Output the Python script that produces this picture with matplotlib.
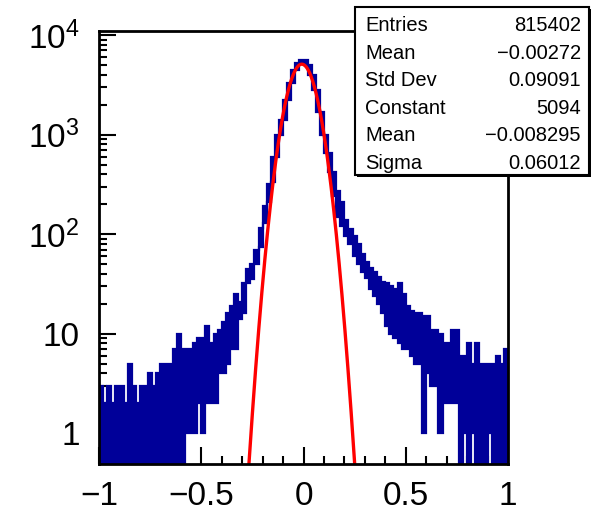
import numpy as np
import matplotlib
matplotlib.use("Agg")
import matplotlib.pyplot as plt
from matplotlib.patches import Rectangle
from matplotlib.ticker import FixedLocator, FixedFormatter, LogLocator, MultipleLocator, NullFormatter

plt.rcParams['font.family'] = ['Liberation Sans', 'DejaVu Sans']
plt.rcParams['mathtext.fontset'] = 'custom'
plt.rcParams['mathtext.rm'] = 'Liberation Sans'
plt.rcParams['mathtext.it'] = 'Liberation Sans:italic'

# ---------------- data ----------------
bin_min, bin_max, n_bins = -1.0, 1.0, 100

# upper envelope of counts in each coarse bin (width 0.02)
counts_high = [
    3, 2, 3, 2, 3, 3, 2, 5, 3, 2,
    3, 3, 4, 3, 4, 5, 5, 5, 7, 10,
    7, 7, 7, 8, 9, 9, 12, 8, 10, 11,
    13, 16, 19, 25, 21, 32, 45, 50, 70, 115,
    190, 320, 600, 1000, 1400, 2200, 3300, 4400, 5200, 5600,
    5600, 5000, 4000, 2800, 1700, 1000, 650, 420, 270, 210,
    140, 112, 95, 80, 63, 52, 46, 42, 37, 33,
    32, 30, 28, 32, 25, 19, 17, 16, 16, 15,
    15, 11, 11, 10, 8, 8, 11, 11, 6, 6,
    8, 5, 8, 5, 5, 5, 5, 6, 5, 7,
]
# lower envelope of counts in each coarse bin
counts_low = [
    0, 0, 0, 0, 0, 0, 0, 0, 0, 0,
    0, 0, 0, 0, 0, 0, 0, 0, 0, 0,
    0, 1, 1, 1, 2, 1, 2, 2, 2, 4,
    4, 5, 7, 7, 14, 16, 32, 35, 50, 75,
    130, 210, 330, 600, 1000, 1400, 2200, 3300, 4400, 5200,
    5000, 4000, 2800, 1700, 1000, 650, 420, 240, 150, 120,
    95, 80, 60, 50, 42, 36, 28, 24, 20, 16,
    12, 10, 9, 8, 7, 7, 6, 5, 5, 1,
    4, 3, 3, 1, 2, 2, 2, 2, 0, 1,
    0, 1, 0, 0, 0, 1, 0, 0, 0, 0,
]

entries = 815402
hist_mean = -0.00272
hist_std = 0.09091
fit_constant = 5094
fit_mean = -0.008295
fit_sigma = 0.06012

x_ticks = [-1, -0.5, 0, 0.5, 1]
x_tick_labels = ['\u22121', '\u22120.5', '0', '0.5', '1']
y_ticks = [1, 10, 100, 1000, 10000]
y_tick_labels = ['1', '10', r'$\mathregular{10^{2}}$', r'$\mathregular{10^{3}}$', r'$\mathregular{10^{4}}$']

# ---------------- figure ----------------
W, H = 598, 518
fig = plt.figure(figsize=(W / 100, H / 100), dpi=100)
ax = fig.add_axes([99 / W, (H - 464) / H, 409 / W, 433 / H])

edges = np.linspace(bin_min, bin_max, n_bins + 1)
hi = np.asarray(counts_high, float)
lo = np.asarray(counts_low, float)
lo_plot = np.where(lo > 0, lo, 0.05)

blue = '#000099'
ax.stairs(hi, edges, baseline=lo_plot, fill=True, color=blue, lw=0, zorder=2)
ax.stairs(hi, edges, baseline=None, color=blue, lw=1.6, zorder=2)
ax.stairs(lo_plot, edges, baseline=None, color=blue, lw=1.6, zorder=2)

xs = np.linspace(bin_min, bin_max, 4001)
ys = fit_constant * np.exp(-0.5 * ((xs - fit_mean) / fit_sigma) ** 2)
ys = np.where(ys > 1e-3, ys, np.nan)
ax.plot(xs, ys, color='#ff0000', lw=2.4, zorder=3)

ax.set_yscale('log')
ax.set_xlim(bin_min, bin_max)
ax.set_ylim(0.49, 10970)

ax.xaxis.set_major_locator(FixedLocator(x_ticks))
ax.xaxis.set_major_formatter(FixedFormatter(x_tick_labels))
ax.xaxis.set_minor_locator(MultipleLocator(0.1))
ax.yaxis.set_major_locator(FixedLocator(y_ticks))
ax.yaxis.set_major_formatter(FixedFormatter(y_tick_labels))
ax.yaxis.set_minor_locator(LogLocator(base=10, subs=np.arange(2, 10), numticks=20))
ax.yaxis.set_minor_formatter(NullFormatter())

ax.tick_params(which='both', direction='in', top=False, right=False, width=1.5, colors='black')
ax.tick_params(which='major', length=12)
ax.tick_params(which='minor', length=6)
ax.tick_params(axis='x', which='major', pad=12, labelsize=24)
ax.tick_params(axis='y', which='major', pad=14, labelsize=24)
for s in ax.spines.values():
    s.set_linewidth(2.0)
    s.set_zorder(5)

# ---------------- stats box ----------------
bx0, bx1, by0, by1 = 355, 589, 7, 175
shadow = Rectangle(((bx0 + 2) / W, (H - by1 - 2) / H), (bx1 - bx0) / W, (by1 - by0) / H,
                   transform=fig.transFigure, facecolor='black', edgecolor='black', lw=0, zorder=9)
box = Rectangle((bx0 / W, (H - by1) / H), (bx1 - bx0) / W, (by1 - by0) / H,
                transform=fig.transFigure, facecolor='white', edgecolor='black', lw=1.5, zorder=10)
fig.add_artist(shadow)
fig.add_artist(box)

def fmt(v):
    return f"{v:g}".replace('-', '\u2212')

rows = [('Entries', f"{entries:d}"), ('Mean', fmt(hist_mean)), ('Std Dev', fmt(hist_std)),
        ('Constant', fmt(fit_constant)), ('Mean', fmt(fit_mean)), ('Sigma', fmt(fit_sigma))]
for i, (name, val) in enumerate(rows):
    yb = 31 + 27.6 * i
    fig.text(365 / W, (H - yb) / H, name, fontsize=14.5, ha='left', va='baseline', zorder=11)
    fig.text(581 / W, (H - yb) / H, val, fontsize=14.5, ha='right', va='baseline', zorder=11)

fig.savefig('out.png', dpi=100)
